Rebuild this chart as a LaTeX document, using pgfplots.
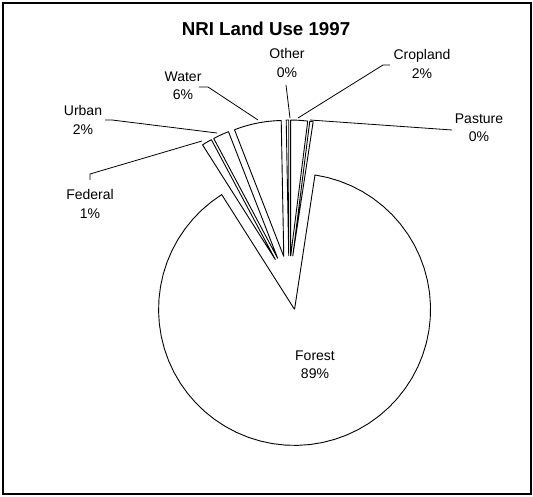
\documentclass[border=0pt]{standalone}
\usepackage{pgfplots}
\usepackage{pgfplotstable}
\pgfplotsset{compat=1.18}
\usepackage{fontspec}
\setmainfont{Liberation Sans}

\pgfplotstableread{
label value
Cropland 2.0
Pasture 0.4
Forest 88.6
Federal 1.2
Urban 1.9
Water 5.6
Other 0.3
}\landuse

% pie geometry in pixel units (y downwards)
\def\pcx{289}
\def\pcy{283}
\def\pexp{27}
\def\prad{136}

\newcommand\pieslice[2]{%
  \pgfmathsetmacro\pmidang{(#1+#2)/2}%
  \pgfmathsetmacro\pax{\pcx + \pexp*sin(\pmidang)}%
  \pgfmathsetmacro\pay{\pcy - \pexp*cos(\pmidang)}%
  \pgfmathsetmacro\pstep{(#2-#1)/60}%
  \xdef\ppts{(\pax,\pay)}%
  \foreach \k in {0,...,60} {%
    \pgfmathsetmacro\pang{#1 + \pstep*\k}%
    \pgfmathsetmacro\ppx{\pax + \prad*sin(\pang)}%
    \pgfmathsetmacro\ppy{\pay - \prad*cos(\pang)}%
    \xdef\ppts{\ppts (\ppx,\ppy)}%
  }%
  \xdef\ppts{\ppts (\pax,\pay)}%
  \edef\ptmp{\noexpand\addplot[draw=black, fill=white, line width=0.9pt, line join=round] coordinates {\ppts};}%
  \ptmp
}

\begin{document}
\begin{tikzpicture}
\begin{axis}[
  scale only axis, width=533pt, height=497pt,
  xmin=0, xmax=533, ymin=0, ymax=497,
  y dir=reverse,
  hide axis, clip=false,
]
\path (axis cs:0,0) rectangle (axis cs:533,497);
\draw[line width=1.3pt] (axis cs:3,3) rectangle (axis cs:531,494);

\xdef\pcum{0}
\pgfplotsforeachungrouped \i in {0,...,6} {%
  \pgfplotstablegetelem{\i}{value}\of\landuse
  \let\pval\pgfplotsretval
  \pgfmathsetmacro\pstart{3.6*\pcum}%
  \pgfmathsetmacro\pend{3.6*(\pcum+\pval)}%
  \pieslice{\pstart}{\pend}%
  \pgfmathsetmacro\pnew{\pcum+\pval}%
  \xdef\pcum{\pnew}%
}

% leader lines
\draw[line width=0.8pt] (axis cs:286,85) -- (axis cs:290,118);
\draw[line width=0.8pt] (axis cs:390,65) -- (axis cs:383,65) -- (axis cs:298,118);
\draw[line width=0.8pt] (axis cs:310,120) -- (axis cs:452,130);
\draw[line width=0.8pt] (axis cs:199,87) -- (axis cs:208,87) -- (axis cs:258,120);
\draw[line width=0.8pt] (axis cs:105,120) -- (axis cs:112,120) -- (axis cs:217,133);
\draw[line width=0.8pt] (axis cs:90,180) -- (axis cs:90,174) -- (axis cs:202,141);

% labels
\node[font=\bfseries\fontsize{18.7}{22}\selectfont] at (axis cs:266,29) {NRI Land Use 1997};
\tikzset{lab/.style={align=center, font=\fontsize{14}{18.5}\selectfont, inner sep=0pt}}
\node[lab] at (axis cs:287,63) {Other\\0\%};
\node[lab] at (axis cs:422,64) {Cropland\\2\%};
\node[lab] at (axis cs:479,128) {Pasture\\0\%};
\node[lab] at (axis cs:183,86) {Water\\6\%};
\node[lab] at (axis cs:83,120) {Urban\\2\%};
\node[lab] at (axis cs:90,204) {Federal\\1\%};
\node[lab] at (axis cs:315,365) {Forest\\89\%};
\end{axis}
\end{tikzpicture}
\end{document}
